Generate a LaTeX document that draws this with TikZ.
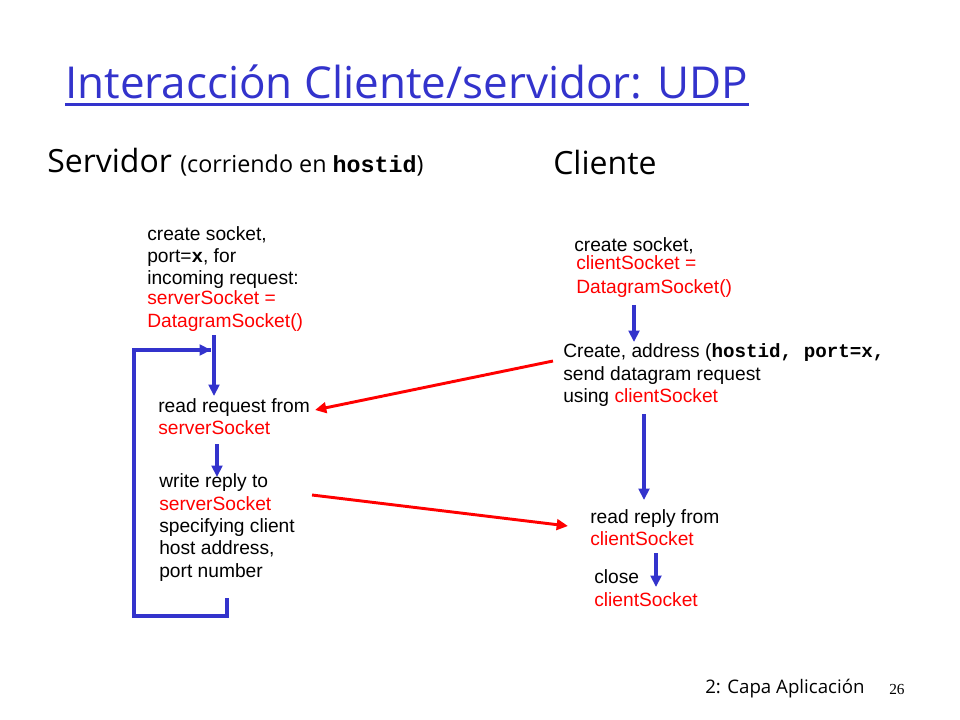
\documentclass[tikz,border=0pt]{standalone}
\usepackage{fontspec}
\setmainfont{Liberation Sans}
\setmonofont{Liberation Mono}
\newfontfamily\comic{Open Sans}
\newfontfamily\tnr{Liberation Serif}
\usetikzlibrary{arrows.meta}
\definecolor{tblue}{HTML}{3333CC}
\definecolor{tred}{HTML}{FF0000}
\begin{document}
\begin{tikzpicture}[x=0.75pt,y=-0.75pt,
  txt/.style={anchor=base west,inner sep=0pt,font=\fontsize{14.4}{16}\selectfont},
  rtxt/.style={txt,text=tred},
  barrow/.style={draw=tblue,line width=2.4pt,-{Triangle[length=8.5pt,width=8pt]}},
  bline/.style={draw=tblue,line width=2.4pt},
  rarrow/.style={draw=tred,line width=2.2pt,-{Triangle[length=8.5pt,width=8pt]}}]
\useasboundingbox (0,0) rectangle (960,720);
% title
\node[anchor=base west,inner sep=0pt,font=\comic\fontsize{33}{36}\selectfont,text=tblue] (title) at (65,99) {Interacción Cliente/servidor: UDP};
\draw[tblue,line width=2.2pt] ([yshift=-4pt]title.base west) -- ([yshift=-4pt]title.base east);
% headers
\node[anchor=base west,inner sep=0pt,font=\comic\fontsize{24}{26}\selectfont] (srv) at (47,173) {Servidor {\fontsize{17.5}{18}\selectfont(corriendo en {\ttfamily\bfseries hostid})}};
\node[anchor=base west,inner sep=0pt,font=\comic\fontsize{24}{26}\selectfont] (cli) at (553,175) {Cliente};
% server block 1
\node[txt] (s1a) at (147,241) {create socket,};
\node[txt] (s1b) at (147,263) {port={\ttfamily\bfseries x}, for};
\node[txt] (s1c) at (147,285) {incoming request:};
\node[rtxt] (s1d) at (147,305) {serverSocket =};
\node[rtxt] (s1e) at (147,327) {DatagramSocket()};
% server block 2
\node[txt] (s2a) at (158,412) {read request from};
\node[rtxt] (s2b) at (158,434) {serverSocket};
% server block 3
\node[txt] (s3a) at (159,487) {write reply to};
\node[rtxt] (s3b) at (159,510) {serverSocket};
\node[txt] (s3c) at (159,532) {specifying client};
\node[txt] (s3d) at (159,554) {host address,};
\node[txt] (s3e) at (159,577) {port number};
% client block 1
\node[txt] (c1a) at (574,252) {create socket,};
\node[rtxt] (c1b) at (576,270) {clientSocket =};
\node[rtxt] (c1c) at (576,293) {DatagramSocket()};
% client block 2
\node[txt] (c2a) at (563,357) {Create, address ({\ttfamily\bfseries hostid, port=x,}};
\node[txt] (c2b) at (563,380) {send datagram request};
\node[txt] (c2c) at (563,402) {using \textcolor{tred}{clientSocket}};
% client block 3
\node[txt] (c3a) at (590,523) {read reply from};
\node[rtxt] (c3b) at (590,545) {clientSocket};
\node[txt] (c4a) at (594,583) {close};
\node[rtxt] (c4b) at (594,606) {clientSocket};
% footer
\node[anchor=base west,inner sep=0pt,font=\comic\fontsize{14}{16}\selectfont] (foot) at (705,693) {2: Capa Aplicación};
\node[anchor=base west,inner sep=0pt,font=\tnr\fontsize{11.5}{13}\selectfont] (pg) at (889,694) {26};
% arrow coordinates
\coordinate (a1s) at (214,335);
\coordinate (a1e) at (214,396);
\coordinate (l1) at (227,598);
\coordinate (l2) at (227,616);
\coordinate (l3) at (134,616);
\coordinate (l4) at (134,350);
\coordinate (l5) at (211,350);
\coordinate (a2s) at (217,444);
\coordinate (a2e) at (217,477);
\coordinate (b1s) at (634,305);
\coordinate (b1e) at (634,342);
\coordinate (b2s) at (644,414);
\coordinate (b2e) at (644,500);
\coordinate (b3s) at (656,553);
\coordinate (b3e) at (656,587);
\coordinate (r1s) at (553,361);
\coordinate (r1e) at (315,410);
\coordinate (r2s) at (312,495);
\coordinate (r2e) at (568,526);
\draw[barrow] (a1s) -- (a1e);
\draw[bline,line cap=butt] (l1) -- (l2) -- (l3) -- (l4) -- (l5);
\draw[barrow] (l4) -- (l5);
\draw[barrow] (a2s) -- (a2e);
\draw[barrow] (b1s) -- (b1e);
\draw[barrow] (b2s) -- (b2e);
\draw[barrow] (b3s) -- (b3e);
\draw[rarrow] (r1s) -- (r1e);
\draw[rarrow] (r2s) -- (r2e);
\end{tikzpicture}
\end{document}
